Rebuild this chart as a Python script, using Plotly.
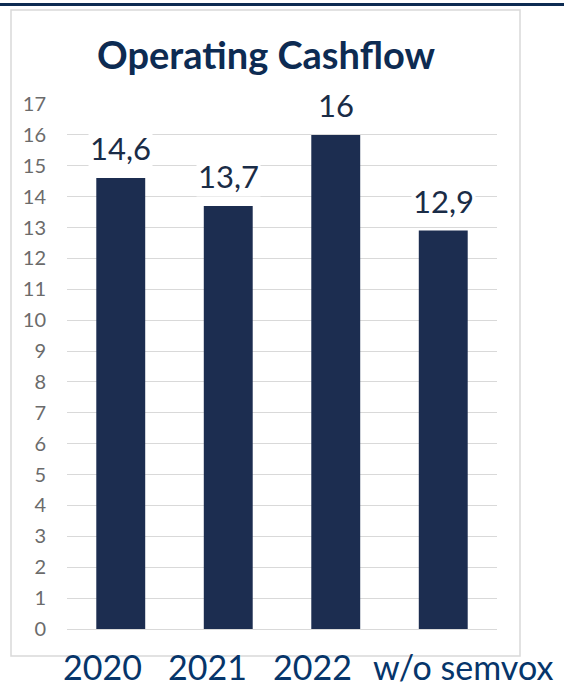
import plotly.graph_objects as go

categories = ["2020", "2021", "2022", "w/o semvox"]
values = [14.6, 13.7, 16.0, 12.9]
value_labels = ["14,6", "13,7", "16", "12,9"]
y_ticks = list(range(0, 18))
title_text = "Operating Cashflow"

W, H = 564, 688
L, R, T, B = 67, 67, 104, 59
pw, ph = W - L - R, H - T - B

def px_x(px):
    return (px - L) / pw

def px_y(py):
    return (H - B - py) / ph

bar_color = "#1c2d50"
navy = "#0d2b52"
label_navy = "#06356a"

fig = go.Figure()
fig.add_trace(go.Bar(x=categories, y=values, marker_color=bar_color,
                     marker_line_width=0, hoverinfo="skip"))

# data labels (x given as category index on the category axis)
for i, (v, t) in enumerate(zip(values, value_labels)):
    fig.add_annotation(x=i, y=v, text=t, showarrow=False, xref="x", yref="y",
                       yanchor="middle", yshift=30, bgcolor="white", borderpad=1,
                       font=dict(family="Lato", size=31, color="#1a2c47"))

# category labels below chart box
shifts = [-18, -21, -23, 20]
for i, (c, s) in enumerate(zip(categories, shifts)):
    fig.add_annotation(x=i, y=px_y(688), xref="x", yref="paper", text=c,
                       showarrow=False, xshift=s, yanchor="bottom", borderpad=0,
                       font=dict(family="Lato", size=34, color=label_navy))

# chart frame and top rule
fig.add_shape(type="rect", xref="paper", yref="paper",
              x0=px_x(11), x1=px_x(520), y0=px_y(656), y1=px_y(10),
              line=dict(color="#d9d9d9", width=1.5), layer="below")
fig.add_shape(type="line", xref="paper", yref="paper",
              x0=px_x(0), x1=px_x(564), y0=px_y(4.5), y1=px_y(4.5),
              line=dict(color=navy, width=3))

fig.update_layout(
    width=W, height=H,
    margin=dict(l=L, r=R, t=T, b=B),
    paper_bgcolor="white", plot_bgcolor="white",
    showlegend=False, bargap=0.545,
    title=dict(text="<b>" + title_text + "</b>", x=266 / W, xanchor="center",
               y=1 - 56 / H, yanchor="middle", yref="container",
               font=dict(family="Lato", size=38, color=navy)),
    xaxis=dict(type="category", categoryorder="array", categoryarray=categories,
               range=[-0.5, len(categories) - 0.5],
               showticklabels=False, showgrid=False, zeroline=False,
               showline=False, ticks=""),
    yaxis=dict(range=[0, 17], tickvals=y_ticks, ticktext=[str(t) for t in y_ticks],
               showgrid=True, gridcolor="#d9d9d9", gridwidth=1,
               zeroline=True, zerolinecolor="#d9d9d9", zerolinewidth=1,
               showline=False, ticks="", ticklabelstandoff=20,
               tickfont=dict(family="Lato", size=20, color="#6b6b6b")),
)

fig.write_html("out.html", config={"displayModeBar": False},
               post_script="document.body.style.margin='0';document.body.style.overflow='hidden';")
